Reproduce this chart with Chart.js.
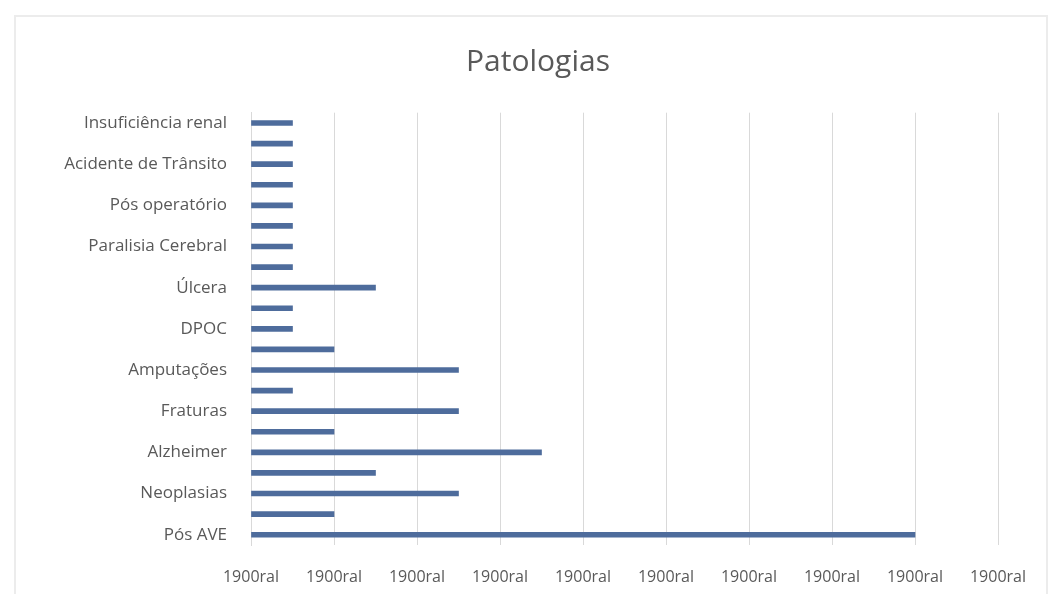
<!DOCTYPE html>
<html>
<head>
<meta charset="utf-8">
<script src="https://cdn.jsdelivr.net/npm/chart.js@4/dist/chart.umd.min.js"></script>
<style>
  html, body { margin: 0; padding: 0; background: #ffffff; }
  #frame { position: absolute; left: 14px; top: 15px; width: 1034px; height: 620px; border: 2px solid #ececec; box-sizing: border-box; }
  #wrap { position: absolute; left: 0; top: 0; width: 1053px; height: 594px; }
  #title { position: absolute; left: 0; top: 42px; width: 1076px; text-align: center; font: 30px 'Open Sans', 'Liberation Sans', sans-serif; line-height: 36px; color: #595959; }
</style>
</head>
<body>
<div id="frame"></div>
<div id="wrap"><canvas id="c" width="1053" height="594"></canvas></div>
<div id="title"></div>
<script>
// Categories in Excel order (bottom to top); unlabeled rows are hidden by the reference's label skipping
const categories = ["Pós AVE", "", "Neoplasias", "", "Alzheimer", "", "Fraturas", "", "Amputações", "",
  "DPOC", "", "Úlcera", "", "Paralisia Cerebral", "", "Pós operatório", "", "Acidente de Trânsito", "", "Insuficiência renal"];
const values = [16, 2, 5, 3, 7, 2, 5, 1, 5, 2, 1, 1, 3, 1, 1, 1, 1, 1, 1, 1, 1];
const tickLabels = ["1900ral", "1900ral", "1900ral", "1900ral", "1900ral", "1900ral", "1900ral", "1900ral", "1900ral", "1900ral"];
const chartTitle = "Patologias";

document.getElementById('title').textContent = chartTitle;

const font = "'Open Sans', 'Liberation Sans', sans-serif";
new Chart(document.getElementById('c'), {
  type: 'bar',
  data: {
    labels: categories,
    datasets: [{
      data: values,
      backgroundColor: '#4e6c9c',
      barThickness: 5
    }]
  },
  options: {
    indexAxis: 'y',
    responsive: false,
    animation: false,
    layout: { padding: { left: 24, right: 55, top: 112.7, bottom: 0 } },
    plugins: {
      legend: { display: false },
      tooltip: { enabled: false },
      title: { display: false }
    },
    scales: {
      x: {
        min: 0, max: 18,
        ticks: {
          stepSize: 2,
          color: '#595959',
          font: { family: font, size: 16 },
          padding: 23,
          maxRotation: 0,
          autoSkip: false,
          callback: (v, i) => tickLabels[i]
        },
        grid: { color: '#d9d9d9', drawTicks: false },
        border: { display: false },
        afterFit: (s) => { s.height = 49; }
      },
      y: {
        reverse: true,
        ticks: {
          color: '#595959',
          font: { family: font, size: 17 },
          padding: 24,
          autoSkip: false,
          callback: (v, i) => categories[i]
        },
        grid: { display: false, drawTicks: false },
        border: { display: true, color: '#d9d9d9' },
        afterFit: (s) => { s.width = 227; }
      }
    }
  }
});
</script>
</body>
</html>
